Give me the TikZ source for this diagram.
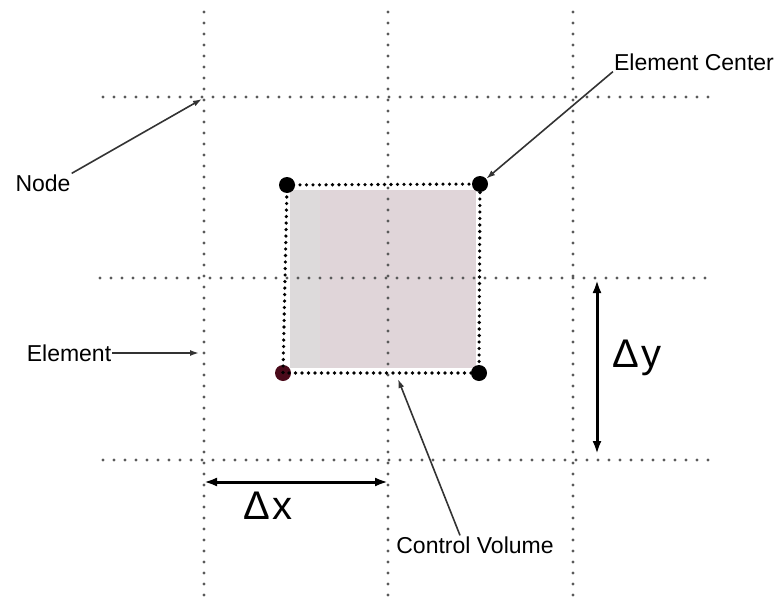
\documentclass[tikz,border=0pt]{standalone}
\usepackage{fontspec}
\setmainfont{Liberation Sans}
\usetikzlibrary{arrows.meta,positioning}
\definecolor{GridGray}{HTML}{5A5A5A}
\definecolor{CVPink}{HTML}{E0D5D9}
\definecolor{StripGray}{HTML}{DDDADB}
\definecolor{PtrInk}{HTML}{333333}
\definecolor{DotRed}{HTML}{4A0A1A}
\tikzset{
  gridline/.style={draw=GridGray,line width=3.3pt,line cap=round,dash pattern=on 0pt off 11pt},
  cvline/.style={draw=black,line width=3.6pt,line cap=round,dash pattern=on 0pt off 6.5pt},
  corner/.style={circle,fill=black,minimum size=16pt,inner sep=0pt},
  lab/.style={font=\fontsize{23}{27}\selectfont,inner sep=1pt},
  biglab/.style={font=\fontsize{40}{46}\selectfont,inner sep=1pt},
  pointer/.style={-{Latex[length=9pt,width=6pt]},line width=1.6pt,draw=PtrInk},
  dimarrow/.style={{Latex[length=13pt,width=9pt]}-{Latex[length=13pt,width=9pt]},line width=3pt,draw=black}
}

\begin{document}
\begin{tikzpicture}[x=1pt,y=-1pt]
  \useasboundingbox (0,0) rectangle (783,599);
  % control volume shading
  \fill[CVPink] (290,190) rectangle (476,368);
  \fill[StripGray] (290,190) rectangle (320,368);
  % mesh
  \foreach \gx in {204,388,573} \draw[gridline] (\gx,12) -- (\gx,596);
  \foreach \gy/\ga/\gb in {97/103/715,278/100/712,460/103/712} \draw[gridline] (\ga,\gy) -- (\gb,\gy);
  % element centers
  \node[corner] (tl) at (287,185) {}; \node[corner] (tr) at (480,184) {};
  \node[corner,fill=DotRed] (bl) at (283,373) {}; \node[corner] (br) at (479,373) {};
  \draw[cvline] (tl.center) -- (tr.center) -- (br.center) -- (bl.center) -- cycle;
  % labels
  \node[lab] (lblNode) at (43,183) {Node};
  \node[lab] (lblCenter) at (694,62) {Element Center};
  \node[lab] (lblElem) at (69,353) {Element};
  \node[lab] (lblCV) at (475,545) {Control Volume};
  \coordinate (nodePt) at (202,99); \coordinate (elemPt) at (199,353);
  \coordinate (cvPt) at (398,379);
  \draw[pointer] (lblNode.north east) -- (nodePt);
  \draw[pointer] (lblCenter.south west) -- (tr);
  \draw[pointer] (lblElem.east) -- (elemPt);
  \draw[pointer] ([xshift=-15pt]lblCV.north) -- (cvPt);
  % spacings
  \coordinate (dxA) at (204,482); \coordinate (dxB) at (388,482);
  \coordinate (dyA) at (597,280); \coordinate (dyB) at (597,454);
  \draw[dimarrow] (dxA) -- (dxB);
  \draw[dimarrow] (dyA) -- (dyB);
  \node[biglab] (lblDx) at (268,506) {Δ\hspace{3pt}x};
  \node[biglab] (lblDy) at (637,358) {Δ\hspace{3pt}y};
\end{tikzpicture}
\end{document}
